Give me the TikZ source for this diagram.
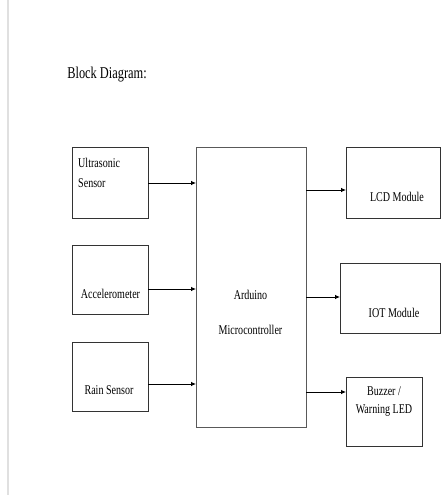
\documentclass[tikz,border=0pt]{standalone}
\usepackage{fontspec}
\setmainfont{Liberation Serif}[FakeStretch=0.75]
\usetikzlibrary{arrows.meta}
\begin{document}
\begin{tikzpicture}[x=1pt,y=-1pt,
  box/.style={draw=black!80,line width=0.9pt,anchor=north west,inner sep=0pt,outer sep=0pt},
  txt/.style={anchor=base,inner sep=0pt,font=\fontsize{13.4}{15}\selectfont},
  arr/.style={draw=black,line width=0.8pt,-{Latex[length=5pt,width=4.5pt]}}]
\useasboundingbox (0,0) rectangle (441,495);
\fill[black!12] (6.5,0) rectangle (8.5,495);
\node[anchor=base,inner sep=0pt,font=\fontsize{16.5}{18}\selectfont] (title) at (107,78) {Block Diagram:};
% input boxes
\node[box,minimum width=76pt,minimum height=71pt] (us) at (72,147) {};
\node[box,minimum width=76pt,minimum height=69pt] (acc) at (72,245) {};
\node[box,minimum width=76pt,minimum height=69pt] (rain) at (72,342) {};
% controller
\node[box,draw=black!65,minimum width=110pt,minimum height=280pt] (ard) at (196,147) {};
% outputs
\node[box,minimum width=94pt,minimum height=71pt] (lcd) at (346,147) {};
\node[box,minimum width=100pt,minimum height=70pt] (iot) at (340,263) {};
\node[box,minimum width=76pt,minimum height=69pt] (buz) at (346,377) {};
% texts
\node[txt,anchor=base west] (us1) at (78,167) {Ultrasonic};
\node[txt,anchor=base west] (us2) at (78,187) {Sensor};
\node[txt] (acct) at (110.5,298) {Accelerometer};
\node[txt] (raint) at (109,394) {Rain Sensor};
\node[txt] (ard1) at (250.5,299) {Arduino};
\node[txt] (ard2) at (250.5,334) {Microcontroller};
\node[txt] (lcdt) at (397,201) {LCD Module};
\node[txt] (iott) at (394,317) {IOT Module};
\node[txt] (buz1) at (384,395) {Buzzer /};
\node[txt] (buz2) at (384,413) {Warning LED};
% arrows
\draw[arr] (us.east |- 0,183) -- (ard.west |- 0,183);
\draw[arr] (acc.east |- 0,289) -- (ard.west |- 0,289);
\draw[arr] (rain.east |- 0,384) -- (ard.west |- 0,384);
\draw[arr] (ard.east |- 0,190) -- (lcd.west |- 0,190);
\draw[arr] (ard.east |- 0,297) -- (iot.west |- 0,297);
\draw[arr] (ard.east |- 0,392) -- (buz.west |- 0,392);
\end{tikzpicture}
\end{document}
